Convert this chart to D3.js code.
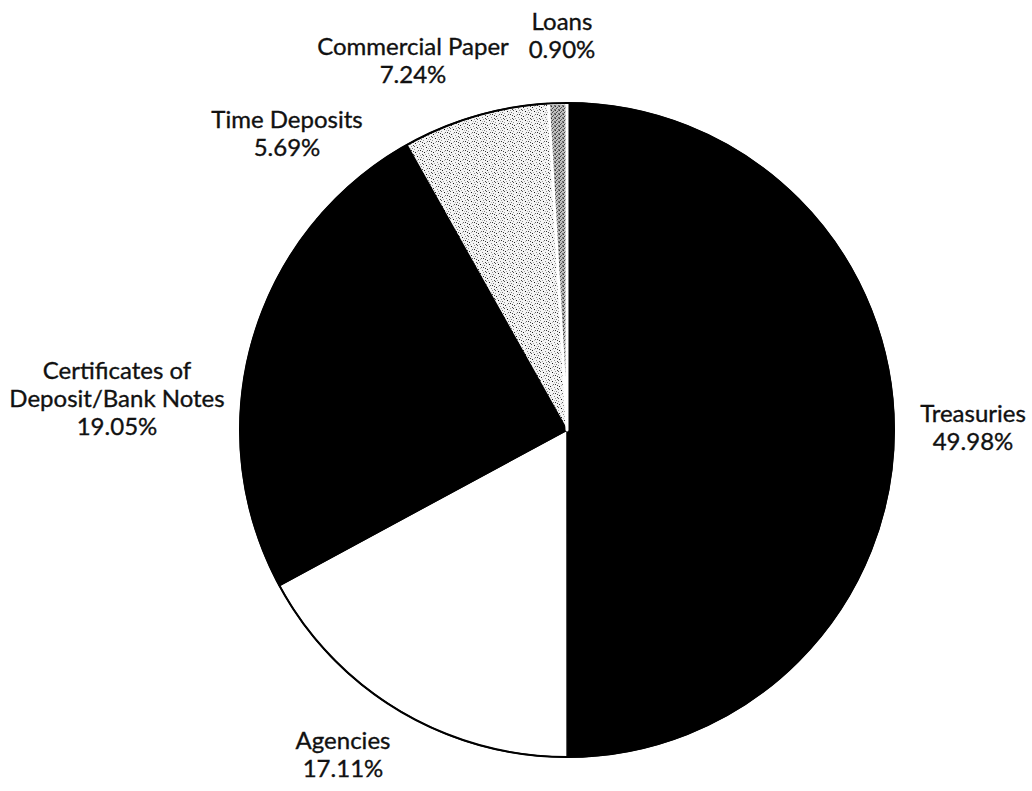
<!DOCTYPE html>
<html>
<head>
<meta charset="utf-8">
<script src="https://cdn.jsdelivr.net/npm/d3@7"></script>
<style>
  html, body { margin: 0; padding: 0; background: #fff; }
  svg { display: block; }
  text { font-family: Lato, "Open Sans", sans-serif; fill: #111; stroke: #111; stroke-width: 0.35px; }
</style>
</head>
<body>
<svg id="chart" width="1032" height="791"></svg>
<script>
// Portfolio composition by investment type (percent of total)
const categories = ["Treasuries", "Agencies", "Certificates of Deposit/Bank Notes",
                    "Time Deposits", "Commercial Paper", "Loans"];
const shares = [49.98, 17.11, 19.05, 5.69, 7.24, 0.90];
const labelLines = [["Treasuries"], ["Agencies"], ["Certificates of", "Deposit/Bank Notes"],
                    ["Time Deposits"], ["Commercial Paper"], ["Loans"]];

// Layout: label centres relative to the pie centre
const labelOffsets = [[406, -2], [-224, 325], [-450, -31], [-280, -296], [-154, -369], [-5, -394]];
const fills = ["#000", "#fff", "#000", "#000", "url(#stippleLight)", "url(#stippleDark)"];

const cx = 567, cy = 430, radius = 327;
const svg = d3.select("#chart");
const defs = svg.append("defs");

// Light speckle texture
const pl = defs.append("pattern").attr("id", "stippleLight")
  .attr("patternUnits", "userSpaceOnUse").attr("width", 9).attr("height", 9);
pl.append("rect").attr("width", 9).attr("height", 9).attr("fill", "#f4f4f4");
[[1,1,"#222"],[5,2,"#888"],[8,0,"#444"],[3,5,"#111"],[7,6,"#777"],[6,8,"#333"],
 [0,7,"#999"],[2,3,"#aaa"],[6,4,"#999"],[4,8,"#666"],[8,3,"#444"],[3,0,"#bbb"],
 [0,4,"#555"],[5,6,"#bbb"]]
  .forEach(([x, y, c]) => pl.append("rect").attr("x", x).attr("y", y)
    .attr("width", 1).attr("height", 1).attr("fill", c));

// Dense speckle texture
const pd = defs.append("pattern").attr("id", "stippleDark")
  .attr("patternUnits", "userSpaceOnUse").attr("width", 4).attr("height", 4);
pd.append("rect").attr("width", 4).attr("height", 4).attr("fill", "#c0c0c0");
[[0,0,"#333"],[2,1,"#555"],[1,2,"#444"],[3,3,"#666"],[3,0,"#888"],[0,3,"#777"]]
  .forEach(([x, y, c]) => pd.append("rect").attr("x", x).attr("y", y)
    .attr("width", 1).attr("height", 1).attr("fill", c));

const pie = d3.pie().sort(null).value(d => d)(shares);
const arc = d3.arc().innerRadius(0).outerRadius(radius);

const g = svg.append("g").attr("transform", `translate(${cx},${cy})`);

g.selectAll("path.slice").data(pie).join("path")
  .attr("class", "slice")
  .attr("d", arc)
  .attr("fill", (d, i) => fills[i])
  .attr("stroke", (d, i) => i === categories.length - 1 ? "#fff" : "#000")
  .attr("stroke-width", (d, i) => i === categories.length - 1 ? 3 : 1.5)
  .attr("stroke-linejoin", "round");

// outer rim
g.append("circle").attr("r", radius).attr("fill", "none")
  .attr("stroke", "#000").attr("stroke-width", 2);

// labels
const fmt = d3.format(".2f");
const lineH = 28;
const labels = g.selectAll("text.lbl").data(pie).join("text")
  .attr("class", "lbl")
  .attr("text-anchor", "middle")
  .attr("font-size", 24);
labels.each(function(d, i) {
  const lines = labelLines[i].concat([fmt(d.data) + "%"]);
  const [ox, oy] = labelOffsets[i];
  const top = oy - (lines.length - 1) * lineH / 2;
  const t = d3.select(this);
  lines.forEach((s, k) => {
    t.append("tspan").attr("x", ox).attr("y", top + k * lineH)
      .attr("dy", "0.35em").text(s);
  });
});
</script>
</body>
</html>
